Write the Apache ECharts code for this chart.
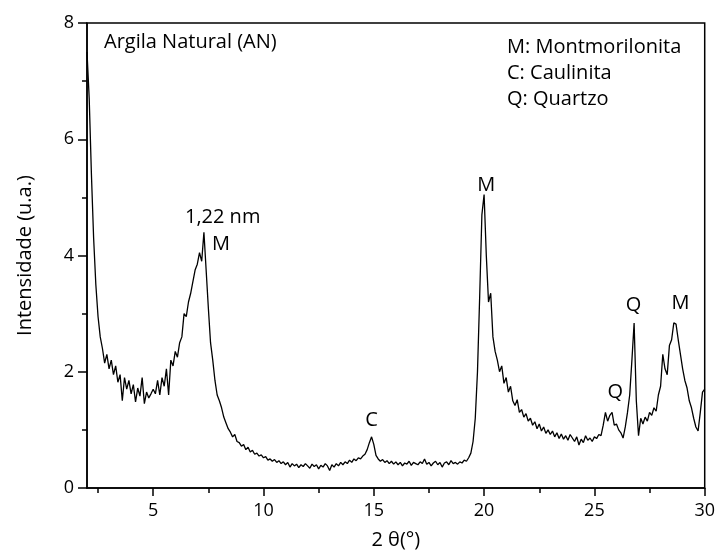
<!DOCTYPE html>
<html>
<head>
<meta charset="utf-8">
<script src="https://cdn.jsdelivr.net/npm/echarts@6/dist/echarts.min.js"></script>
<style>
  html, body { margin: 0; padding: 0; background: #fff; }
  #chart { width: 718px; height: 557px; }
</style>
</head>
<body>
<div id="chart"></div>
<script>
// scan: 2θ from 2.0 to 30.0, step 0.1
var twoThetaStart = 2.0;
var twoThetaStep = 0.1;
var intensity = [
  7.5, 6.7, 5.4, 4.3, 3.5, 2.95, 2.6, 2.4, 2.15, 2.3,
  2.05, 2.2, 1.95, 2.1, 1.82, 1.95, 1.5, 1.9, 1.7, 1.85,
  1.62, 1.78, 1.48, 1.72, 1.58, 1.9, 1.45, 1.65, 1.55, 1.62,
  1.7, 1.62, 1.85, 1.6, 1.9, 1.75, 2.05, 1.6, 2.2, 2.1,
  2.35, 2.25, 2.5, 2.6, 3.0, 2.95, 3.2, 3.35, 3.55, 3.75,
  3.85, 4.05, 3.9, 4.4, 3.75, 3.1, 2.5, 2.2, 1.85, 1.6,
  1.5, 1.38, 1.22, 1.12, 1.02, 0.96, 0.88, 0.92, 0.8, 0.78,
  0.72, 0.75, 0.66, 0.7, 0.62, 0.65, 0.58, 0.6, 0.55, 0.57,
  0.52, 0.54, 0.48, 0.5, 0.46, 0.49, 0.44, 0.47, 0.42, 0.45,
  0.4, 0.44, 0.36, 0.42, 0.38, 0.41, 0.35, 0.4, 0.37, 0.42,
  0.38, 0.34, 0.41, 0.37, 0.4, 0.33, 0.39, 0.36, 0.42, 0.38,
  0.3, 0.4, 0.36, 0.42, 0.38, 0.44, 0.4, 0.45, 0.42, 0.48,
  0.44, 0.5, 0.47, 0.52, 0.5, 0.55, 0.58, 0.66, 0.78, 0.88,
  0.75, 0.56, 0.5, 0.46, 0.49, 0.44, 0.47, 0.42, 0.46, 0.41,
  0.45, 0.4, 0.44, 0.38, 0.43, 0.41, 0.46, 0.39, 0.44, 0.42,
  0.4, 0.45, 0.42, 0.5, 0.41, 0.44, 0.38, 0.43, 0.46, 0.4,
  0.44, 0.36, 0.43, 0.45, 0.4, 0.47, 0.42, 0.44, 0.41, 0.45,
  0.43, 0.48, 0.46, 0.52, 0.6, 0.8, 1.2, 2.0, 3.3, 4.7,
  5.05, 4.0, 3.2, 3.35, 2.6, 2.35, 2.2, 2.0, 2.1, 1.8,
  1.9, 1.65, 1.75, 1.5, 1.42, 1.52, 1.3, 1.35, 1.22, 1.28,
  1.15, 1.2, 1.08, 1.14, 1.02, 1.1, 0.98, 1.05, 0.94, 1.0,
  0.92, 0.98, 0.88, 0.95, 0.85, 0.93, 0.84, 0.9, 0.82, 0.92,
  0.86, 0.8, 0.88, 0.74, 0.84, 0.78, 0.9, 0.82, 0.86, 0.8,
  0.88, 0.85, 0.92, 0.9, 1.08, 1.3, 1.15, 1.25, 1.3, 1.08,
  1.1, 1.0, 0.95, 0.86, 1.05, 1.3, 1.6, 2.2, 2.84, 1.5,
  0.9, 1.2, 1.1, 1.22, 1.15, 1.3, 1.25, 1.38, 1.32, 1.6,
  1.75, 2.3, 2.05, 1.95, 2.45, 2.55, 2.84, 2.82, 2.55, 2.3,
  2.05, 1.85, 1.72, 1.5, 1.38, 1.2, 1.05, 0.98, 1.3, 1.65,
  1.7
];
var xTickValues = [5, 10, 15, 20, 25, 30];
var xMinorTickValues = [2.5, 7.5, 12.5, 17.5, 22.5, 27.5];
// peak labels: [2θ, intensity, text]
var peakLabels = [
  [8.15, 4.66, '1,22 nm'],
  [8.07, 4.2, 'M'],
  [14.9, 1.17, 'C'],
  [20.1, 5.2, 'M'],
  [25.95, 1.64, 'Q'],
  [26.77, 3.15, 'Q'],
  [28.9, 3.17, 'M']
];
var sampleName = 'Argila Natural (AN)';
var phaseKey = ['M: Montmorilonita', 'C: Caulinita', 'Q: Quartzo'];

var font = '"Open Sans", "Noto Sans", sans-serif';
var scan = intensity.map(function(v, i){
  return [+(twoThetaStart + i * twoThetaStep).toFixed(2), v];
});

var chart = echarts.init(document.getElementById('chart'));
var option = {
  animation: false,
  grid: {
    left: 87, right: 8, top: 23, bottom: 69,
    show: true, borderColor: '#000', borderWidth: 1.5
  },
  xAxis: [
    {
      type: 'value', min: 2, max: 30,
      name: '2 θ(°)', nameLocation: 'middle', nameGap: 42,
      nameTextStyle: { fontFamily: font, fontSize: 20, color: '#000' },
      axisLine: { lineStyle: { color: '#000', width: 1.5 } },
      axisTick: { show: true, length: 8, customValues: xTickValues, lineStyle: { color: '#000', width: 1.5 } },
      axisLabel: { customValues: xTickValues, margin: 14, fontFamily: font, fontSize: 18, color: '#000' },
      splitLine: { show: false }
    },
    {
      type: 'value', min: 2, max: 30, position: 'bottom',
      axisLine: { show: false },
      axisTick: { show: true, length: 5, customValues: xMinorTickValues, lineStyle: { color: '#000', width: 1.5 } },
      axisLabel: { show: false },
      splitLine: { show: false }
    }
  ],
  yAxis: {
    type: 'value', min: 0, max: 8, interval: 2,
    name: 'Intensidade (u.a.)', nameLocation: 'middle', nameGap: 52,
    nameTextStyle: { fontFamily: font, fontSize: 20, color: '#000' },
    axisLine: { show: true, lineStyle: { color: '#000', width: 1.5 } },
    axisTick: { show: true, length: 9, lineStyle: { color: '#000', width: 1.5 } },
    minorTick: { show: true, splitNumber: 2, length: 5, lineStyle: { color: '#000', width: 1.5 } },
    axisLabel: { margin: 13, fontFamily: font, fontSize: 18, color: '#000' },
    splitLine: { show: false }
  },
  graphic: [
    {
      type: 'text', left: 104, top: 32,
      style: { text: sampleName, font: '20px ' + font, fill: '#000' }
    },
    {
      type: 'text', left: 507, top: 34,
      style: { text: phaseKey.join('\n'), font: '20px ' + font, lineHeight: 26, fill: '#000' }
    }
  ],
  series: [
    {
      name: sampleName, type: 'line', data: scan,
      showSymbol: false, symbol: 'none',
      lineStyle: { color: '#000', width: 1.3 },
      z: 3
    },
    {
      name: 'peaks', type: 'scatter', data: peakLabels,
      symbolSize: 0, itemStyle: { color: '#000', opacity: 1 },
      label: {
        show: true, position: 'inside',
        formatter: function(p){ return p.data[2]; },
        fontFamily: font, fontSize: 20, color: '#000',
        textBorderWidth: 0
      },
      silent: true, z: 4
    }
  ]
};
chart.setOption(option);
</script>
</body>
</html>
